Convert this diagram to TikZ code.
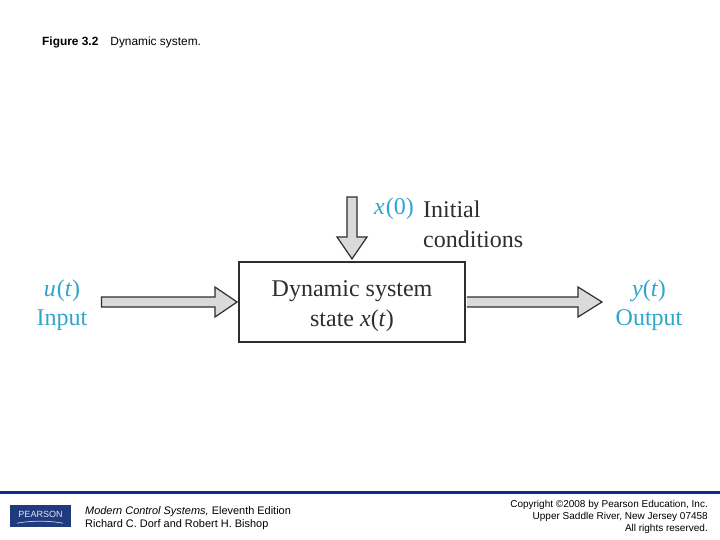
\documentclass[tikz,border=0pt]{standalone}
\usepackage{fontspec}
\setmainfont{Liberation Serif}
\setsansfont{Liberation Sans}
\usetikzlibrary{calc}
\definecolor{navy}{HTML}{0F2A8C}
\definecolor{logoblue}{HTML}{1F3A7D}
\definecolor{cyanlabel}{HTML}{2FA5CE}
\definecolor{arrowgray}{HTML}{D9DADC}
\definecolor{inkdark}{HTML}{2E2E2E}
\tikzset{
  blockarrow/.style={draw=inkdark,fill=arrowgray,line width=1.2pt,line join=miter},
  sysbox/.style={draw=inkdark,line width=1.9pt,minimum width=226pt,minimum height=80pt,inner sep=0pt},
  big/.style={font=\fontsize{24}{28}\selectfont,text=inkdark,inner sep=0pt},
  bigc/.style={big,text=cyanlabel},
  footl/.style={font=\sffamily\fontsize{10.95}{12}\selectfont,text=black,inner sep=0pt},
  footr/.style={font=\sffamily\fontsize{10}{12}\selectfont,text=black,inner sep=0pt},
  heading/.style={font=\sffamily\fontsize{11.9}{13}\selectfont,text=black,inner sep=0pt},
}
\begin{document}
\begin{tikzpicture}[x=1pt,y=-1pt]
\useasboundingbox (0,0) rectangle (720,540);
\fill[white] (0,0) rectangle (720,540);
\node[heading,anchor=west] (title) at (42,42.5) {\textbf{Figure 3.2}\hspace{12pt}Dynamic system.};

\node[sysbox] (sys) at (352,301.8) {};
\node[big] (sysa) at (352,291) {Dynamic system};
\node[big] (sysb) at (352,321) {state \textit{x}(\textit{t})};

\coordinate (instart) at (101.5,302);
\coordinate (outend) at (602,302);
\coordinate (downstart) at (352,197);

\draw[blockarrow] ($(instart)+(0,-5)$) -- ++(113.5,0) -- ++(0,-10) -- ($(sys.west)+(-1,0.2)$) -- ($(instart)+(113.5,15)$) -- ++(0,-10) -- ($(instart)+(0,5)$) -- cycle;
\draw[blockarrow] ($(sys.east)+(1,-4.8)$) -- ($(outend)+(-24,-5)$) -- ++(0,-10) -- (outend) -- ($(outend)+(-24,15)$) -- ++(0,-10) -- ($(sys.east)+(1,5.2)$);
\draw[blockarrow] ($(downstart)+(-5,0)$) -- ++(0,40) -- ++(-10,0) -- ($(sys.north)+(0,-2)$) -- ($(downstart)+(15,40)$) -- ++(-10,0) -- ($(downstart)+(5,0)$) -- cycle;

\node[bigc] (u) at (62,291) {\textit{u}\kern1pt(\textit{t})};
\node[bigc] (inp) at (62,320) {Input};
\node[bigc] (y) at (649,291) {\textit{y}(\textit{t})};
\node[bigc] (outp) at (649,320) {Output};
\node[bigc,anchor=east] (x0) at (414,209) {\textit{x}\kern1pt(0)};
\node[big,anchor=west] (ini) at (423,209) {Initial};
\node[big,anchor=west] (cond) at (423,239) {conditions};

\fill[navy] (0,491) rectangle (720,494);
\node[fill=logoblue,minimum width=61pt,minimum height=22pt,inner sep=0pt] (logo) at (40.5,516) {};
\node[font=\sffamily\fontsize{9}{10}\selectfont,text=white!88!logoblue,inner sep=0pt] (logotext) at (40.5,514.5) {PEARSON};
\draw[white!75!logoblue,line width=0.7pt] (17,523.2) .. controls (32,520.5) and (48,520.5) .. (63,523.2);

\node[footl,anchor=west] (book) at (85,512) {\textit{Modern Control Systems,} Eleventh Edition};
\node[footl,anchor=west] (auth) at (85,525) {Richard C. Dorf and Robert H. Bishop};
\node[footr,anchor=east] (c1) at (708,505) {Copyright ©2008 by Pearson Education, Inc.};
\node[footr,anchor=east] (c2) at (708,517) {Upper Saddle River, New Jersey 07458};
\node[footr,anchor=east] (c3) at (708,529) {All rights reserved.};
\end{tikzpicture}
\end{document}
